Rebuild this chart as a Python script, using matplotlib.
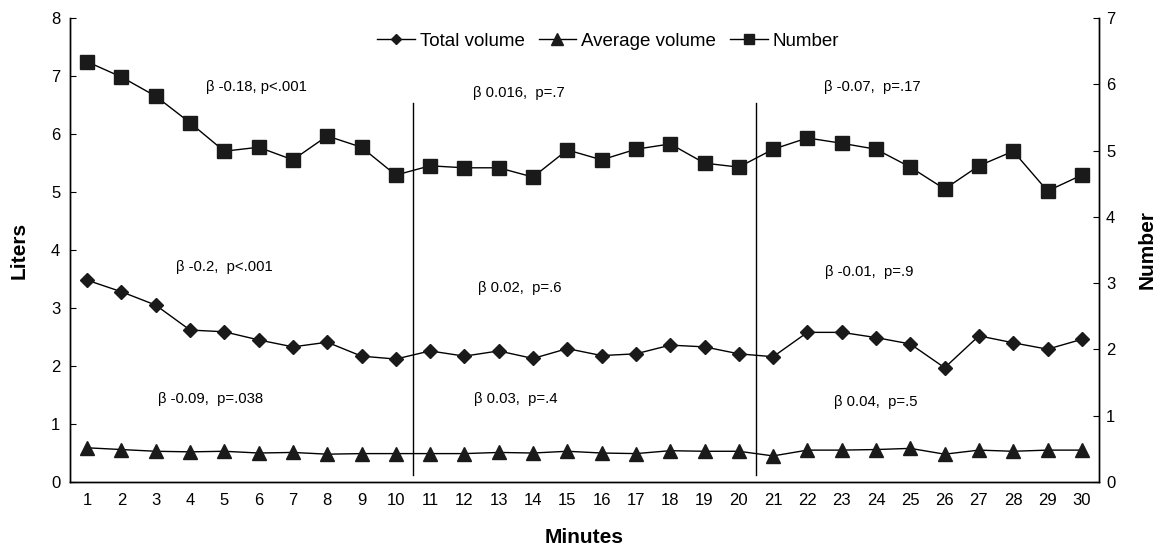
import matplotlib
matplotlib.use("Agg")
import matplotlib.pyplot as plt
from matplotlib.lines import Line2D

plt.rcParams['font.family'] = ['Liberation Sans', 'DejaVu Sans']

minutes = list(range(1, 31))
total_volume = [3.48, 3.28, 3.05, 2.62, 2.59, 2.45, 2.33, 2.41, 2.17, 2.12,
                2.26, 2.17, 2.26, 2.13, 2.30, 2.18, 2.21, 2.36, 2.33, 2.21,
                2.16, 2.58, 2.58, 2.49, 2.38, 1.97, 2.52, 2.40, 2.29, 2.46]
average_volume = [0.59, 0.56, 0.53, 0.52, 0.53, 0.50, 0.51, 0.48, 0.49, 0.49,
                  0.49, 0.49, 0.51, 0.50, 0.53, 0.50, 0.49, 0.54, 0.53, 0.53,
                  0.45, 0.55, 0.55, 0.56, 0.58, 0.48, 0.55, 0.53, 0.55, 0.55]
number = [6.34, 6.11, 5.82, 5.42, 4.99, 5.05, 4.86, 5.22, 5.05, 4.63,
          4.77, 4.74, 4.74, 4.60, 5.01, 4.86, 5.02, 5.10, 4.81, 4.75,
          5.02, 5.19, 5.11, 5.02, 4.75, 4.42, 4.77, 4.99, 4.39, 4.63]

annotations = [
    ("β -0.18, p<.001", 5.95, 6.81),
    ("β 0.016,  p=.7", 13.6, 6.70),
    ("β -0.07,  p=.17", 23.9, 6.81),
    ("β -0.2,  p<.001", 5.0, 3.71),
    ("β 0.02,  p=.6", 13.6, 3.34),
    ("β -0.01,  p=.9", 23.8, 3.62),
    ("β -0.09,  p=.038", 4.6, 1.43),
    ("β 0.03,  p=.4", 13.5, 1.43),
    ("β 0.04,  p=.5", 24.0, 1.38),
]
breaks = [10.5, 20.5]

fig = plt.figure(figsize=(11.6, 5.48), dpi=100)
ax = fig.add_axes([0.0603, 0.1204, 0.8871, 0.8468])
ax2 = ax.twinx()

mc = '#1a1a1a'
ax.plot(minutes, total_volume, color='black', lw=1.0, marker='D', ms=7.2,
        mfc=mc, mec=mc, zorder=3)
ax.plot(minutes, average_volume, color='black', lw=1.0, marker='^', ms=10,
        mfc=mc, mec=mc, zorder=3)
ax2.plot(minutes, number, color='black', lw=1.0, marker='s', ms=9.6,
         mfc=mc, mec=mc, zorder=3)

for b in breaks:
    ax.plot([b, b], [0.12, 6.53], color='black', lw=1.0)

for txt, x, y in annotations:
    ax.text(x, y, txt, ha='center', va='center', fontsize=10.7)

ax.set_xlim(0.5, 30.5)
ax.set_ylim(0, 8)
ax2.set_ylim(0, 7)
ax.set_xticks(minutes)
ax.set_xticklabels([str(m) for m in minutes])
ax.set_yticks(range(0, 9))
ax2.set_yticks(range(0, 8))
ax.tick_params(axis='x', length=0, labelsize=12, pad=8)
ax.tick_params(axis='y', length=4.5, labelsize=12, direction='in', pad=7)
ax2.tick_params(axis='y', length=4.5, labelsize=12, direction='in', pad=5)

for a in (ax, ax2):
    a.spines['top'].set_visible(False)
    for s in ('left', 'right', 'bottom'):
        a.spines[s].set_linewidth(1.0)

ax.set_xlabel('Minutes', fontsize=15, fontweight='bold', labelpad=14)
ax.set_ylabel('Liters', fontsize=15, fontweight='bold', labelpad=16)
ax2.set_ylabel('Number', fontsize=15, fontweight='bold', labelpad=16)

handles = [
    Line2D([], [], color='black', lw=1.0, marker='D', ms=5.2, mfc=mc, mec=mc),
    Line2D([], [], color='black', lw=1.0, marker='^', ms=8, mfc=mc, mec=mc),
    Line2D([], [], color='black', lw=1.0, marker='s', ms=6.5, mfc=mc, mec=mc),
]
ax.legend(handles, ['Total volume', 'Average volume', 'Number'], loc='upper center',
          bbox_to_anchor=(0.523, 1.005), ncol=3, frameon=False, fontsize=13.5,
          handlelength=2.0, handletextpad=0.27, columnspacing=0.75)

fig.savefig('out.png', dpi=100)
